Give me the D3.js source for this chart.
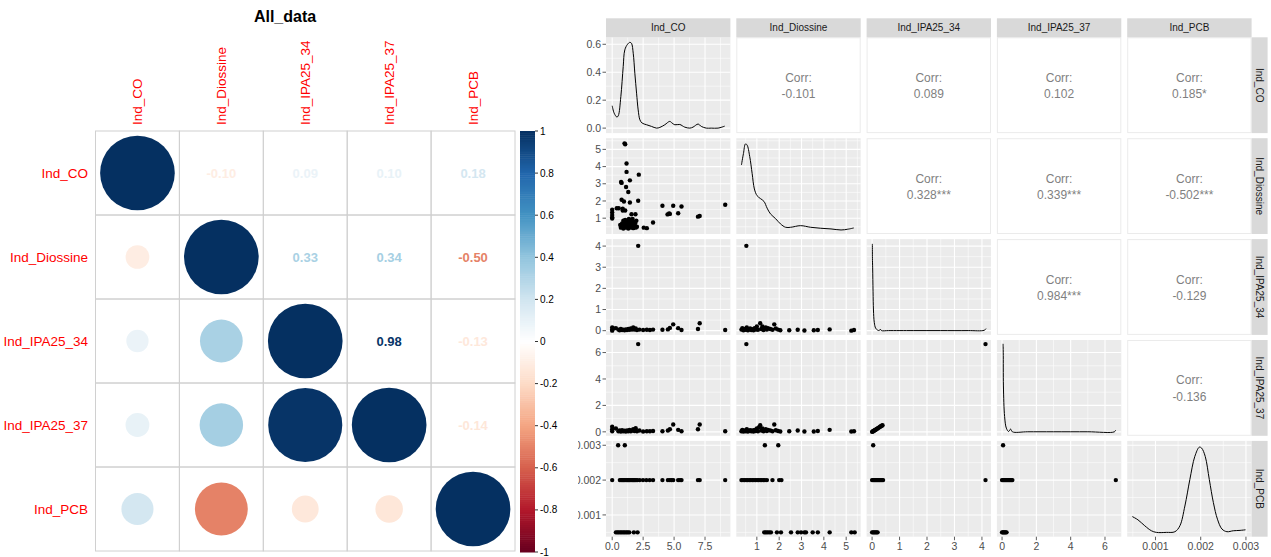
<!DOCTYPE html>
<html lang="en">
<head>
<meta charset="utf-8">
<title>All_data</title>
<script src="https://cdnjs.cloudflare.com/ajax/libs/d3/7.8.5/d3.min.js"></script>
<style>
  body { margin: 0; background: #fff; }
  svg { display: block; font-family: "Liberation Sans", Arial, sans-serif; }
</style>
</head>
<body>
<script>
const width = 1271, height = 557;

// ---------- data ----------
const variables = ["Ind_CO", "Ind_Diossine", "Ind_IPA25_34", "Ind_IPA25_37", "Ind_PCB"];

// upper-triangle pairs and their correlations
const corrPairs  = [[0,1],[0,2],[0,3],[0,4],[1,2],[1,3],[1,4],[2,3],[2,4],[3,4]];
const corrValues = [-0.101, 0.089, 0.102, 0.185, 0.328, 0.339, -0.502, 0.984, -0.129, -0.136];
const corrStars  = ["", "", "", "*", "***", "***", "***", "***", "", ""];

const colorbarTicks = [1, 0.8, 0.6, 0.4, 0.2, 0, -0.2, -0.4, -0.6, -0.8, -1];
const rdbu = ["#67001F","#B2182B","#D6604D","#F4A582","#FDDBC7","#FFFFFF","#D1E5F0","#92C5DE","#4393C3","#2166AC","#053061"];

// per-variable axis settings (ggpairs)
const varDomains = [[-0.5, 9.55], [0.08, 5.65], [-0.2, 4.33], [-0.3, 6.95], [0.000375, 0.003125]];
const varTicks = [[0, 2.5, 5, 7.5], [1, 2, 3, 4, 5], [0, 1, 2, 3, 4], [0, 2, 4, 6], [0.001, 0.002, 0.003]];
const varTickLabels = [["0.0","2.5","5.0","7.5"], ["1","2","3","4","5"], ["0","1","2","3","4"], ["0","2","4","6"], ["0.001","0.002","0.003"]];
const varMinor = [[1.25, 3.75, 6.25, 8.75], [0.5, 1.5, 2.5, 3.5, 4.5, 5.5], [0.5, 1.5, 2.5, 3.5], [1, 3, 5], [0.0005, 0.0015, 0.0025]];

// density axis of the first diagonal panel
const densCoDomain = [-0.0357, 0.65];
const densCoTicks = [0, 0.2, 0.4, 0.6];
const densCoTickLabels = ["0.0", "0.2", "0.4", "0.6"];
const densCoMinor = [0.1, 0.3, 0.5];

// diagonal densities
const densCO = [[0,0.16],[0.16,0.107],[0.38,0.079],[0.49,0.088],[0.7,0.226],[0.89,0.44],[1.02,0.56],[1.24,0.60],[1.43,0.614],[1.56,0.607],[1.7,0.536],[1.83,0.393],[1.97,0.25],[2.1,0.13],[2.24,0.059],[2.42,0.036],[2.78,0.024],[3.18,0.012],[3.58,0.0],[3.85,0.005],[4.25,0.024],[4.65,0.048],[4.84,0.036],[5.06,0.024],[5.46,0.026],[5.86,0.007],[6.27,0.0],[6.53,0.007],[6.94,0.029],[7.2,0.012],[7.6,0.0],[8.0,0.0],[8.55,0.0],[9.09,0.014]];
// relative heights (0 = bottom, 1 = top of panel)
const densDio = [[0.31,0.72],[0.4,0.84],[0.49,0.94],[0.56,0.93],[0.68,0.81],[0.79,0.63],[0.89,0.47],[1.01,0.40],[1.16,0.37],[1.32,0.34],[1.46,0.27],[1.61,0.21],[1.84,0.16],[2.06,0.105],[2.29,0.07],[2.51,0.07],[2.96,0.087],[3.41,0.07],[3.86,0.06],[4.32,0.053],[4.77,0.042],[5.07,0.05],[5.34,0.063]];
const dens34 = [[0.01,0.95],[0.012,0.8],[0.02,0.7],[0.035,0.45],[0.05,0.26],[0.08,0.13],[0.13,0.07],[0.2,0.05],[0.26,0.045],[0.3,0.06],[0.34,0.045],[0.6,0.045],[1.5,0.045],[2.5,0.045],[3.5,0.045],[4.08,0.048],[4.15,0.065]];
const dens37 = [[0.06,0.96],[0.07,0.87],[0.08,0.52],[0.15,0.2],[0.25,0.08],[0.38,0.045],[0.5,0.07],[0.6,0.042],[1.5,0.042],[3,0.042],[5,0.042],[6.55,0.042],[6.62,0.06]];
const densPCB = [[0.000489,0.21],[0.000613,0.176],[0.000763,0.114],[0.00091,0.062],[0.00102,0.045],[0.00124,0.045],[0.00143,0.052],[0.00154,0.114],[0.00165,0.32],[0.00176,0.597],[0.00187,0.838],[0.00197,0.935],[0.00202,0.925],[0.0021,0.838],[0.00219,0.597],[0.00228,0.356],[0.00237,0.183],[0.00247,0.08],[0.00258,0.052],[0.00272,0.062],[0.00287,0.066],[0.00299,0.072]];

// lower-triangle scatter points [x, y]
const ptsCoDio = [[0,1.49],[0,1.33],[0,1.18],[0,1.06],[0,0.98],[0.37,1.58],[0.53,1.58],[0.85,1.55],[0.76,3.05],[0.72,3.1],[1.0,5.35],[1.05,5.3],[1.16,4.18],[1.16,3.69],[1.12,2.81],[1.3,2.52],[1.43,3.2],[2.15,3.53],[0.76,2.07],[0.95,1.97],[1.43,1.91],[2.1,2.01],[1.05,1.45],[0.85,1.45],[1.56,1.23],[1.88,1.23],[0.7,0.45],[0.8,0.5],[0.9,0.4],[1.0,0.55],[1.1,0.45],[1.2,0.5],[1.3,0.4],[1.4,0.55],[1.5,0.45],[1.6,0.5],[1.7,0.42],[1.8,0.55],[1.9,0.45],[2.0,0.5],[0.8,0.7],[0.95,0.65],[1.1,0.75],[1.25,0.65],[1.4,0.75],[1.55,0.7],[1.7,0.8],[1.85,0.7],[0.9,0.85],[1.05,0.9],[1.2,0.85],[1.35,0.95],[1.5,0.9],[1.65,0.95],[1.3,0.8],[1.0,0.6],[1.6,0.6],[1.95,0.85],[0.65,0.6],[2.55,0.45],[2.8,0.42],[3.3,0.75],[4.06,1.72],[4.47,1.22],[4.6,1.27],[4.66,1.25],[4.93,1.72],[5.33,1.29],[5.6,1.68],[6.93,1.09],[7.07,1.13],[9.13,1.78]];
const ptsCo34 = [[2.1,4.01],[0,0.15],[0,0.05],[0,0.0],[0.1,0.1],[0.3,0.12],[0.5,0.05],[0.6,0.02],[0.7,0.08],[0.8,0.03],[0.9,0.05],[1.0,0.02],[1.1,0.06],[1.2,0.03],[1.3,0.08],[1.4,0.04],[1.5,0.1],[1.6,0.05],[1.7,0.15],[1.8,0.05],[1.9,0.1],[2.0,0.03],[2.2,0.05],[2.5,0.03],[2.8,0.04],[3.05,0.03],[3.3,0.05],[4.06,0.04],[4.5,0.06],[4.66,0.13],[4.93,0.3],[5.33,0.12],[5.6,0.03],[6.93,0.08],[7.07,0.35],[9.13,0.03]];
const ptsDio34 = [[0.53,4.01],[0.31,0.05],[0.35,0.12],[0.4,0.02],[0.45,0.08],[0.5,0.04],[0.55,0.15],[0.6,0.02],[0.65,0.06],[0.7,0.1],[0.75,0.03],[0.8,0.07],[0.85,0.02],[0.9,0.12],[0.95,0.05],[1.0,0.2],[1.05,0.04],[1.15,0.35],[1.2,0.08],[1.25,0.2],[1.3,0.03],[1.35,0.1],[1.4,0.15],[1.45,0.05],[1.5,0.12],[1.6,0.08],[1.7,0.04],[1.78,0.3],[1.85,0.1],[1.95,0.05],[2.05,0.02],[2.45,0.02],[2.83,0.04],[3.13,0.01],[3.55,0.02],[3.73,0.03],[4.26,0.06],[5.23,0.0],[5.35,0.03]];
const ptsCo37 = [[2.1,6.64],[0,0.38],[0,0.2],[0,0.05],[0.3,0.25],[0.5,0.05],[0.6,0.1],[0.7,0.03],[0.8,0.12],[0.9,0.05],[1.0,0.08],[1.1,0.02],[1.2,0.1],[1.3,0.05],[1.4,0.15],[1.5,0.04],[1.6,0.1],[1.7,0.2],[1.8,0.06],[1.9,0.28],[2.0,0.05],[2.2,0.1],[2.5,0.03],[2.8,0.05],[3.05,0.04],[3.3,0.06],[4.06,0.05],[4.5,0.1],[4.66,0.2],[4.93,0.55],[5.33,0.15],[5.6,0.05],[6.93,0.2],[7.07,0.55],[9.13,0.05]];
const ptsDio37 = [[0.53,6.64],[0.31,0.05],[0.35,0.15],[0.4,0.03],[0.45,0.1],[0.5,0.05],[0.55,0.2],[0.6,0.03],[0.65,0.08],[0.7,0.12],[0.75,0.04],[0.8,0.1],[0.85,0.02],[0.9,0.15],[0.95,0.06],[1.0,0.25],[1.05,0.05],[1.1,0.35],[1.15,0.5],[1.2,0.1],[1.25,0.25],[1.3,0.04],[1.35,0.12],[1.4,0.2],[1.45,0.06],[1.5,0.15],[1.6,0.1],[1.7,0.05],[1.78,0.55],[1.85,0.12],[1.95,0.06],[2.05,0.03],[2.45,0.05],[2.83,0.1],[3.13,0.02],[3.55,0.03],[3.73,0.06],[4.26,0.15],[5.23,0.03],[5.35,0.05]];
const pts3437 = [[4.13,6.64],[0,0],[0.02,0.03],[0.04,0.05],[0.06,0.07],[0.08,0.1],[0.1,0.13],[0.12,0.15],[0.14,0.18],[0.17,0.22],[0.2,0.26],[0.23,0.3],[0.26,0.34],[0.29,0.38],[0.32,0.42],[0.35,0.46],[0.38,0.5]];
const ptsCoPcb = [[0.48,0.003],[1.02,0.003],[0,0.002],[0.62,0.002],[0.72,0.002],[0.82,0.002],[0.92,0.002],[1.02,0.002],[1.12,0.002],[1.22,0.002],[1.32,0.002],[1.42,0.002],[1.52,0.002],[1.62,0.002],[1.72,0.002],[1.82,0.002],[1.92,0.002],[2.02,0.002],[2.22,0.002],[2.49,0.002],[2.76,0.002],[3.03,0.002],[3.3,0.002],[4.06,0.002],[4.5,0.002],[4.66,0.002],[4.8,0.002],[4.93,0.002],[5.33,0.002],[5.48,0.002],[5.6,0.002],[6.93,0.002],[7.07,0.002],[9.13,0.002],[0.3,0.0005],[0.42,0.0005],[0.54,0.0005],[0.66,0.0005],[0.78,0.0005],[0.9,0.0005],[1.02,0.0005],[1.14,0.0005],[1.26,0.0005],[1.38,0.0005],[1.75,0.0005],[2.05,0.0005]];
const ptsDioPcb = [[1.36,0.003],[1.96,0.003],[0.31,0.002],[0.38,0.002],[0.45,0.002],[0.52,0.002],[0.59,0.002],[0.66,0.002],[0.73,0.002],[0.8,0.002],[0.87,0.002],[0.94,0.002],[1.01,0.002],[1.08,0.002],[1.15,0.002],[1.22,0.002],[1.29,0.002],[1.36,0.002],[1.45,0.002],[1.7,0.002],[2.0,0.002],[2.1,0.002],[1.33,0.0005],[1.4,0.0005],[1.47,0.0005],[1.55,0.0005],[1.63,0.0005],[1.9,0.0005],[2.08,0.0005],[2.53,0.0005],[2.83,0.0005],[2.98,0.0005],[3.13,0.0005],[3.2,0.0005],[3.5,0.0005],[3.73,0.0005],[4.26,0.0005],[5.23,0.0005],[5.38,0.0005]];
const pts34Pcb = [[0.04,0.003],[0,0.002],[0.04,0.002],[0.08,0.002],[0.12,0.002],[0.16,0.002],[0.2,0.002],[0.24,0.002],[0.28,0.002],[0.32,0.002],[0.36,0.002],[0.4,0.002],[4.13,0.002],[0,0.0005],[0.04,0.0005],[0.08,0.0005],[0.12,0.0005],[0.16,0.0005],[0.2,0.0005]];
const pts37Pcb = [[0.06,0.003],[0,0.002],[0.06,0.002],[0.12,0.002],[0.18,0.002],[0.24,0.002],[0.3,0.002],[0.36,0.002],[0.42,0.002],[0.48,0.002],[0.54,0.002],[0.6,0.002],[6.63,0.002],[0,0.0005],[0.05,0.0005],[0.1,0.0005],[0.15,0.0005],[0.2,0.0005],[0.26,0.0005]];

const scatterData = {
  "1-0": ptsCoDio, "2-0": ptsCo34, "2-1": ptsDio34, "3-0": ptsCo37, "3-1": ptsDio37,
  "3-2": pts3437, "4-0": ptsCoPcb, "4-1": ptsDioPcb, "4-2": pts34Pcb, "4-3": pts37Pcb
};
const densityData = [densCO, densDio, dens34, dens37, densPCB];

// ---------- svg ----------
const svg = d3.select("body").append("svg")
  .attr("width", width).attr("height", height);

// ================= corrplot (left) =================
const n = variables.length;
const corr = (i, j) => {
  if (i === j) return 1;
  const k = corrPairs.findIndex(p => (p[0] === Math.min(i, j) && p[1] === Math.max(i, j)));
  return corrValues[k];
};

const color = d3.scaleLinear()
  .domain(d3.range(rdbu.length).map(i => -1 + i * 2 / (rdbu.length - 1)))
  .range(rdbu);

const cx = d3.scaleBand().domain(d3.range(n)).range([95.5, 515]);
const cy = d3.scaleBand().domain(d3.range(n)).range([131, 551]);
const rScale = d3.scaleSqrt().domain([0, 1]).range([0, cx.bandwidth() * 0.445]);

svg.append("text")
  .attr("x", 285).attr("y", 22)
  .attr("text-anchor", "middle")
  .attr("font-size", 16).attr("font-weight", "bold")
  .text("All_data");

const cells = [];
for (let i = 0; i < n; i++) for (let j = 0; j < n; j++) cells.push({ i, j, v: corr(i, j) });

const corrG = svg.append("g");
// cell grid
corrG.selectAll("rect.cell").data(cells).enter().append("rect")
  .attr("x", d => cx(d.j)).attr("y", d => cy(d.i))
  .attr("width", cx.bandwidth()).attr("height", cy.bandwidth())
  .attr("fill", "none").attr("stroke", "#d0d0d0").attr("stroke-width", 1);

// lower triangle + diagonal: circles
corrG.selectAll("circle").data(cells.filter(d => d.i >= d.j)).enter().append("circle")
  .attr("cx", d => cx(d.j) + cx.bandwidth() / 2)
  .attr("cy", d => cy(d.i) + cy.bandwidth() / 2)
  .attr("r", d => rScale(Math.abs(d.v)))
  .attr("fill", d => color(d.v));

// upper triangle: numbers
corrG.selectAll("text.num").data(cells.filter(d => d.i < d.j)).enter().append("text")
  .attr("x", d => cx(d.j) + cx.bandwidth() / 2)
  .attr("y", d => cy(d.i) + cy.bandwidth() / 2 + 5)
  .attr("text-anchor", "middle")
  .attr("font-size", 13).attr("font-weight", "bold")
  .attr("fill", d => color(d.v))
  .text(d => d.v.toFixed(2));

// labels
corrG.selectAll("text.rowlab").data(variables).enter().append("text")
  .attr("x", 88).attr("y", (d, i) => cy(i) + cy.bandwidth() / 2 + 5)
  .attr("text-anchor", "end").attr("font-size", 13.5).attr("fill", "#FF0000")
  .text(d => d);

corrG.selectAll("text.collab").data(variables).enter().append("text")
  .attr("transform", (d, i) => `translate(${cx(i) + cx.bandwidth() / 2},125) rotate(-90)`)
  .attr("dy", "0.35em")
  .attr("font-size", 13.5).attr("fill", "#FF0000")
  .text(d => d);

// colorbar
const cbY = d3.scaleLinear().domain([-1, 1]).range([552, 131]);
const cbSteps = d3.range(-1, 1, 0.01);
svg.append("g").selectAll("rect").data(cbSteps).enter().append("rect")
  .attr("x", 520).attr("width", 15)
  .attr("y", d => cbY(d + 0.01))
  .attr("height", d => cbY(d) - cbY(d + 0.01) + 0.5)
  .attr("fill", d => color(d + 0.005));

const cbAxis = svg.append("g");
cbAxis.selectAll("line").data(colorbarTicks).enter().append("line")
  .attr("x1", 535).attr("x2", 538)
  .attr("y1", d => cbY(d)).attr("y2", d => cbY(d))
  .attr("stroke", "#333");
cbAxis.selectAll("text").data(colorbarTicks).enter().append("text")
  .attr("x", 540).attr("y", d => cbY(d) + 3.5)
  .attr("font-size", 10).attr("fill", "#000")
  .text(d => String(d));

// ================= ggpairs (right) =================
svg.append("defs").append("clipPath").attr("id", "rclip")
  .append("rect").attr("x", 578).attr("y", 0).attr("width", width - 578).attr("height", height);
const pairs = svg.append("g").attr("clip-path", "url(#rclip)");

const panelX0 = 606, panelW = 124.4, stepX = 130.3;
const panelY0 = 37.3, panelH = 95.8, stepY = 100.9;
const px = c => panelX0 + c * stepX;
const py = r => panelY0 + r * stepY;

const xScales = variables.map((v, k) => d3.scaleLinear().domain(varDomains[k]).range([px(k), px(k) + panelW]));
const yScales = variables.map((v, k) => d3.scaleLinear().domain(varDomains[k]).range([py(k) + panelH, py(k)]));
const densCoScale = d3.scaleLinear().domain(densCoDomain).range([py(0) + panelH, py(0)]);

const axisTextColor = "#4D4D4D";

for (let r = 0; r < n; r++) {
  for (let c = 0; c < n; c++) {
    const g = pairs.append("g");
    if (r < c) {
      // correlation panel
      const k = corrPairs.findIndex(p => p[0] === r && p[1] === c);
      g.append("rect")
        .attr("x", px(c) + 0.5).attr("y", py(r) + 0.5)
        .attr("width", panelW - 1).attr("height", panelH - 1)
        .attr("fill", "#fff").attr("stroke", "#EBEBEB");
      const mx = px(c) + panelW / 2, my = py(r) + panelH / 2;
      g.append("text").attr("x", mx).attr("y", my - 3.5)
        .attr("text-anchor", "middle").attr("font-size", 12).attr("fill", "#7F7F7F")
        .text("Corr:");
      g.append("text").attr("x", mx).attr("y", my + 13)
        .attr("text-anchor", "middle").attr("font-size", 12).attr("fill", "#7F7F7F")
        .text(corrValues[k].toFixed(3) + corrStars[k]);
      continue;
    }
    const xs = xScales[c];
    const ys = (r === 0 && c === 0) ? densCoScale : yScales[r];
    const yMajor = (r === 0 && c === 0) ? densCoTicks : varTicks[r];
    const yMinor = (r === 0 && c === 0) ? densCoMinor : varMinor[r];

    g.append("rect")
      .attr("x", px(c)).attr("y", py(r))
      .attr("width", panelW).attr("height", panelH)
      .attr("fill", "#EBEBEB");

    // minor grid
    g.selectAll("line.vmin").data(varMinor[c].filter(v => v >= varDomains[c][0] && v <= varDomains[c][1]))
      .enter().append("line")
      .attr("x1", d => xs(d)).attr("x2", d => xs(d))
      .attr("y1", py(r)).attr("y2", py(r) + panelH)
      .attr("stroke", "#fff").attr("stroke-width", 0.55);
    g.selectAll("line.hmin").data(yMinor.filter(v => v >= ys.domain()[0] && v <= ys.domain()[1]))
      .enter().append("line")
      .attr("y1", d => ys(d)).attr("y2", d => ys(d))
      .attr("x1", px(c)).attr("x2", px(c) + panelW)
      .attr("stroke", "#fff").attr("stroke-width", 0.55);
    // major grid
    g.selectAll("line.vmaj").data(varTicks[c]).enter().append("line")
      .attr("x1", d => xs(d)).attr("x2", d => xs(d))
      .attr("y1", py(r)).attr("y2", py(r) + panelH)
      .attr("stroke", "#fff").attr("stroke-width", 1.1);
    g.selectAll("line.hmaj").data(yMajor).enter().append("line")
      .attr("y1", d => ys(d)).attr("y2", d => ys(d))
      .attr("x1", px(c)).attr("x2", px(c) + panelW)
      .attr("stroke", "#fff").attr("stroke-width", 1.1);

    if (r === c) {
      // density curve
      let yd;
      if (r === 0) yd = densCoScale;
      else yd = d3.scaleLinear().domain([0, 1]).range([py(r) + panelH, py(r)]);
      const line = d3.line()
        .x(d => xs(d[0])).y(d => yd(d[1]))
        .curve(d3.curveCatmullRom.alpha(0.5));
      g.append("path").datum(densityData[r])
        .attr("d", line)
        .attr("fill", "none").attr("stroke", "#000").attr("stroke-width", 1);
    } else {
      g.selectAll("circle").data(scatterData[`${r}-${c}`]).enter().append("circle")
        .attr("cx", d => xs(d[0])).attr("cy", d => ys(d[1]))
        .attr("r", 2.2).attr("fill", "#000");
    }
  }
}

// top strips
const topStrip = pairs.append("g");
topStrip.selectAll("rect").data(variables).enter().append("rect")
  .attr("x", (d, i) => px(i)).attr("y", 18.3)
  .attr("width", panelW).attr("height", 19)
  .attr("fill", "#D9D9D9");
topStrip.selectAll("text").data(variables).enter().append("text")
  .attr("x", (d, i) => px(i) + panelW / 2).attr("y", 31.3)
  .attr("text-anchor", "middle").attr("font-size", 10).attr("fill", "#1A1A1A")
  .text(d => d);

// right strips
const stripX = px(n - 1) + panelW;
const rightStrip = pairs.append("g");
rightStrip.selectAll("rect").data(variables).enter().append("rect")
  .attr("x", stripX).attr("y", (d, i) => py(i))
  .attr("width", 16).attr("height", panelH)
  .attr("fill", "#D9D9D9");
rightStrip.selectAll("text").data(variables).enter().append("text")
  .attr("transform", (d, i) => `translate(${stripX + 8},${py(i) + panelH / 2}) rotate(90)`)
  .attr("dy", "0.35em")
  .attr("text-anchor", "middle").attr("font-size", 10).attr("fill", "#1A1A1A")
  .text(d => d);

// left axis
for (let r = 0; r < n; r++) {
  const ys = r === 0 ? densCoScale : yScales[r];
  const ticks = r === 0 ? densCoTicks : varTicks[r];
  const labels = r === 0 ? densCoTickLabels : varTickLabels[r];
  const ax = pairs.append("g");
  ax.selectAll("line").data(ticks).enter().append("line")
    .attr("x1", panelX0 - 3.5).attr("x2", panelX0)
    .attr("y1", d => ys(d)).attr("y2", d => ys(d))
    .attr("stroke", "#333").attr("stroke-width", 0.8);
  ax.selectAll("text").data(ticks).enter().append("text")
    .attr("x", panelX0 - 5).attr("y", d => ys(d) + 3.7)
    .attr("text-anchor", "end").attr("font-size", 10.5).attr("fill", axisTextColor)
    .text((d, i) => labels[i]);
}

// bottom axis
const bottomY = py(n - 1) + panelH;
for (let c = 0; c < n; c++) {
  const xs = xScales[c];
  const ax = pairs.append("g");
  ax.selectAll("line").data(varTicks[c]).enter().append("line")
    .attr("x1", d => xs(d)).attr("x2", d => xs(d))
    .attr("y1", bottomY).attr("y2", bottomY + 3.5)
    .attr("stroke", "#333").attr("stroke-width", 0.8);
  ax.selectAll("text").data(varTicks[c]).enter().append("text")
    .attr("x", d => xs(d)).attr("y", bottomY + 13.5)
    .attr("text-anchor", "middle").attr("font-size", 10.5).attr("fill", axisTextColor)
    .text((d, i) => varTickLabels[c][i]);
}
</script>
</body>
</html>
